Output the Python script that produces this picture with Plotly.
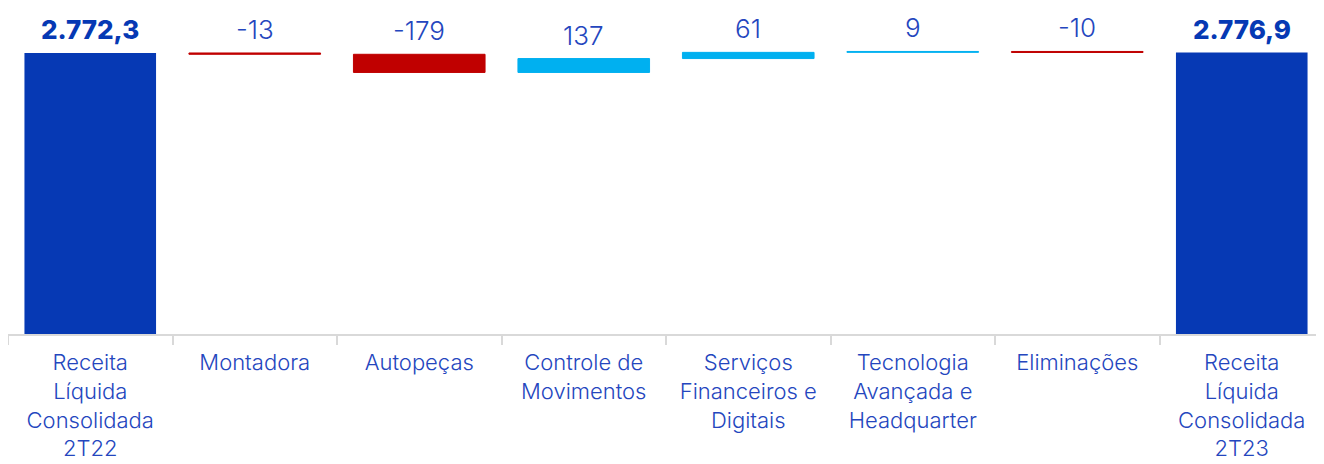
import plotly.graph_objects as go

categories = [
    "Receita<br>Líquida<br>Consolidada<br>2T22",
    "Montadora",
    "Autopeças",
    "Controle de<br>Movimentos",
    "Serviços<br>Financeiros e<br>Digitais",
    "Tecnologia<br>Avançada e<br>Headquarter",
    "Eliminações",
    "Receita<br>Líquida<br>Consolidada<br>2T23",
]
values = [2772.3, -13, -179, 137, 61, 9, -10, 2776.9]
measures = ["absolute", "relative", "relative", "relative", "relative", "relative", "relative", "absolute"]
labels = ["2.772,3", "-13", "-179", "137", "61", "9", "-10", "2.776,9"]

DARK = "#0639B4"
RED = "#C00000"
LIGHT = "#00B0F0"
TXT = "#2446BE"

fig = go.Figure(go.Waterfall(
    x=categories,
    y=values,
    measure=measures,
    totals=dict(marker=dict(color=DARK, line=dict(width=0))),
    increasing=dict(marker=dict(color=LIGHT, line=dict(color=LIGHT, width=1))),
    decreasing=dict(marker=dict(color=RED, line=dict(color=RED, width=1))),
    connector=dict(visible=False),
    textinfo="none",
    hoverinfo="skip",
))

# label annotations placed at the top of each bar
running = 0.0
for cat, v, m, lab in zip(categories, values, measures, labels):
    if m == "absolute":
        top = v
        running = v
        bold = True
    else:
        top = max(running, running + v)
        running += v
        bold = False
    fig.add_annotation(
        x=cat, y=top, text=lab, showarrow=False, yanchor="bottom", yshift=7,
        borderpad=0,
        font=dict(family="Inter", size=26,
                  color=DARK if bold else TXT, weight=800 if bold else 300),
    )

fig.update_layout(
    width=1316, height=456,
    margin=dict(l=0, r=0, t=0, b=130, autoexpand=False),
    paper_bgcolor="white", plot_bgcolor="white",
    showlegend=False,
    bargap=0.225,
    font=dict(family="Inter", color=TXT),
)
fig.update_xaxes(
    automargin=False,
    showline=True, linecolor="#D9D9D9", linewidth=2,
    ticks="outside", tickson="boundaries", ticklen=9, tickcolor="#D9D9D9", tickwidth=2,
    ticklabelstandoff=8,
    tickfont=dict(family="Inter", size=22, color=TXT, weight=300),
    showgrid=False,
)
fig.update_yaxes(visible=False, automargin=False, range=[0, 3216], showgrid=False, zeroline=False)

fig.write_html("out.html")
